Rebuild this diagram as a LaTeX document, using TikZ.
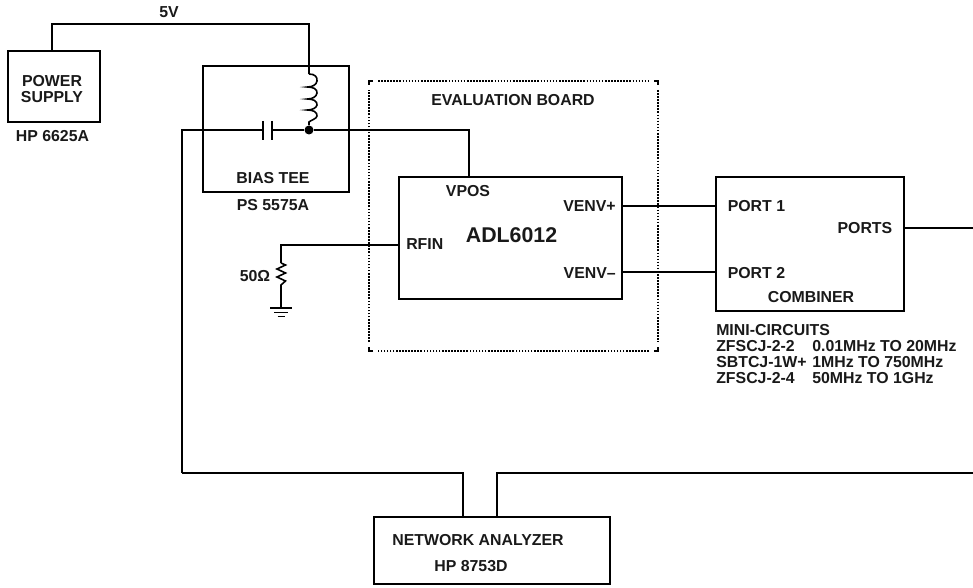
\documentclass[tikz,border=0pt]{standalone}
\usepackage{fontspec}
\setmainfont{Liberation Sans}
\begin{document}
\begin{tikzpicture}[x=0.75pt,y=-0.75pt,line join=miter,
  boxn/.style={draw=black,line width=1.5pt,inner sep=0pt,outer sep=0pt},
  wire/.style={draw=black,line width=1.2pt},
  lab/.style={font=\bfseries\fontsize{11.9pt}{12pt}\selectfont,inner sep=0pt,text=black!90},
  dotb/.style={draw=black,line width=1.4pt,dash pattern=on 1.2pt off 1.1pt},
  cornb/.style={draw=black,line width=1.4pt}]
\useasboundingbox (0,0) rectangle (973,588);
% boxes
\node[boxn,minimum width=92.5*0.75pt,minimum height=71*0.75pt] (ps) at (53.75,86.5) {};
\node[boxn,minimum width=146*0.75pt,minimum height=126*0.75pt] (tee) at (276,129) {};
\node[boxn,minimum width=223*0.75pt,minimum height=122*0.75pt] (adl) at (510.5,238) {};
\node[boxn,minimum width=188*0.75pt,minimum height=134*0.75pt] (comb) at (810,244) {};
\node[boxn,minimum width=236*0.75pt,minimum height=67*0.75pt] (na) at (492,550.5) {};
% evaluation board
\draw[dotb] (378,81) -- (649,81) (658,90) -- (658,342) (649,351) -- (378,351) (369,342) -- (369,90);
\draw[cornb] (369,85) -- (369,81) -- (373,81) (654,81) -- (658,81) -- (658,85)
  (658,347) -- (658,351) -- (654,351) (373,351) -- (369,351) -- (369,347);
% named points
\coordinate (t5a) at (52,24);
\coordinate (t5b) at (309,24);
\coordinate (ltop) at (309,74);
\coordinate (lbot) at (309,122);
\coordinate (capl) at (263,130);
\coordinate (capr) at (272,130);
\coordinate (lcorner) at (182,130);
\coordinate (lbend) at (182,473);
\coordinate (vc) at (469,130);
\coordinate (rf1) at (281,245);
\coordinate (r1) at (281,263);
\coordinate (r2) at (281,287);
\coordinate (gnd) at (281,308);
\coordinate (n1) at (463,473);
\coordinate (n2) at (497,473);
\coordinate (rout) at (973,228);
\coordinate (rin) at (973,473);
\node[circle,fill=black,inner sep=0pt,minimum size=9*0.75pt] (dot) at (309,130) {};
% wires
\draw[wire] (ps.north -| t5a) -- (t5a) -- (t5b) -- (ltop);
\draw[wire] (ltop) .. controls (315,74) and (317.5,77) .. (317,81) .. controls (316.5,85) and (312,87) .. (307.5,87)
  .. controls (313,87) and (317.5,89) .. (317,93) .. controls (316.5,97) and (312,99) .. (307.5,99)
  .. controls (313,99) and (317.5,101) .. (317,105) .. controls (316.5,108) and (312,110) .. (307.5,110)
  .. controls (313,110) and (317.5,112) .. (317,116) .. controls (316.5,119) and (311,120) .. (309,122) -- (dot);
\draw[wire] (lbend) -- (lcorner) -- (capl);
\draw[wire] (capr) -- (dot) -- (vc) -- (adl.north -| vc);
\draw[wire,line width=1.5pt] (263,121) -- (263,140) (272,121) -- (272,140);
\draw[wire] (adl.west |- rf1) -- (rf1) -- (r1);
\draw[wire] (r1) -- (285.5,265) -- (277,269) -- (285.5,273) -- (277,277) -- (285.5,281) -- (281,285) -- (r2) -- (gnd);
\draw[wire,line width=1pt] (270,308) -- (292,308) (274,312.5) -- (288,312.5) (277.5,316.5) -- (284.5,316.5);
\draw[wire] (adl.east |- 0,206) -- (comb.west |- 0,206);
\draw[wire] (adl.east |- 0,272) -- (comb.west |- 0,272);
\draw[wire] (comb.east |- rout) -- (rout);
\draw[wire] (lbend) -- (n1) -- (na.north -| n1);
\draw[wire] (rin) -- (n2) -- (na.north -| n2);
% labels
\node[lab] (l5v) at (169,12.5) {5V};
\node[lab,align=center,font=\bfseries\fontsize{11.9pt}{12pt}\selectfont] (lps) at (52,88.7) {POWER\\SUPPLY};
\node[lab] (lhp) at (52.5,136) {HP 6625A};
\node[lab] (ltee) at (273,178) {BIAS TEE};
\node[lab] (lps5) at (273,205.5) {PS 5575A};
\node[lab] (lev) at (513,100) {EVALUATION BOARD};
\node[lab] (lvp) at (468,191.5) {VPOS};
\node[lab,anchor=east] (lvep) at (616,206.5) {VENV+};
\node[lab,anchor=east] (lvem) at (616,273) {VENV–};
\node[lab,anchor=west] (lrf) at (406,244.5) {RFIN};
\node[lab,font=\bfseries\fontsize{16pt}{18pt}\selectfont] (ladl) at (511.5,235) {ADL6012};
\node[lab] (l50) at (255,276) {50Ω};
\node[lab,anchor=west] (lp1) at (727.5,206.5) {PORT 1};
\node[lab,anchor=west] (lp2) at (727.5,273) {PORT 2};
\node[lab,anchor=east] (lpo) at (892.5,228.5) {PORTS};
\node[lab] (lco) at (811,297.5) {COMBINER};
\node[lab,anchor=west] (m0) at (716,330) {MINI-CIRCUITS};
\node[lab,anchor=west] (m1) at (716,346.5) {ZFSCJ-2-2};
\node[lab,anchor=west] (m1b) at (812,346.5) {0.01MHz TO 20MHz};
\node[lab,anchor=west] (m2) at (716,362) {SBTCJ-1W+};
\node[lab,anchor=west] (m2b) at (812,362) {1MHz TO 750MHz};
\node[lab,anchor=west] (m3) at (716,378) {ZFSCJ-2-4};
\node[lab,anchor=west] (m3b) at (812,378) {50MHz TO 1GHz};
\node[lab] (lna) at (478,540) {NETWORK ANALYZER};
\node[lab] (lnb) at (471,566) {HP 8753D};
\end{tikzpicture}
\end{document}
